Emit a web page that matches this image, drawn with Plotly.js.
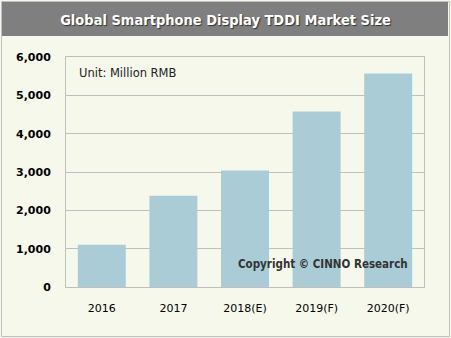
<!DOCTYPE html>
<html><head><meta charset="utf-8">
<script src="https://cdn.plot.ly/plotly-3.0.1.min.js"></script>
<style>html,body{margin:0;padding:0;background:#fff;}</style>
</head><body>
<div id="chart" style="width:451px;height:338px;"></div>
<script>
const categories = ['2016', '2017', '2018(E)', '2019(F)', '2020(F)'];
const marketSize = [1100, 2380, 3040, 4580, 5570];
const yTicks = [0, 1000, 2000, 3000, 4000, 5000, 6000];
const yTickLabels = ['0', '1,000', '2,000', '3,000', '4,000', '5,000', '6,000'];

const W = 451, H = 338, L = 66, R = 27, T = 57, B = 51;
const pw = W - L - R, ph = H - T - B;
const px = x => (x - L) / pw;
const py = y => (H - B - y) / ph;

const trace = {
  type: 'bar', x: categories, y: marketSize,
  marker: {color: '#A9CCD7'}, hoverinfo: 'x+y'
};
const layout = {
  width: W, height: H,
  margin: {l: L, r: R, t: T, b: B},
  paper_bgcolor: '#F7F8EC', plot_bgcolor: '#F7F8EC',
  bargap: 0.33,
  showlegend: false,
  title: {
    text: 'Global Smartphone Display TDDI Market Size',
    x: 0.5, xref: 'container', xanchor: 'center',
    y: 1 - 20 / H, yref: 'container', yanchor: 'middle',
    font: {family: 'DejaVu Sans Condensed, DejaVu Sans', size: 14.5, color: '#FFFFFF', weight: 'bold', shadow: '1px 1px 1px #333333'}
  },
  xaxis: {
    type: 'category', showgrid: false, zeroline: false,
    showline: true, linecolor: '#BFBFBF', linewidth: 1, mirror: true,
    ticks: '', ticklabelstandoff: 11,
    tickfont: {family: 'DejaVu Sans', size: 11, color: '#000'}
  },
  yaxis: {
    range: [0, 6000], tickvals: yTicks, ticktext: yTickLabels,
    showgrid: true, gridcolor: '#BFBFBF', gridwidth: 1, zeroline: false,
    showline: true, linecolor: '#BFBFBF', linewidth: 1, mirror: true,
    ticks: '', ticklabelstandoff: 12,
    tickfont: {family: 'DejaVu Sans', size: 11, color: '#000', weight: 'bold'}
  },
  shapes: [
    {type: 'rect', xref: 'paper', yref: 'paper', layer: 'below',
     x0: px(1.5), x1: px(449.5), y0: py(336.5), y1: py(1.5),
     line: {color: '#BFBFBF', width: 1}, fillcolor: 'rgba(0,0,0,0)'},
    {type: 'rect', xref: 'paper', yref: 'paper', layer: 'below',
     x0: px(2), x1: px(448), y0: py(36), y1: py(2),
     line: {width: 0}, fillcolor: '#7F7F7F'}
  ],
  annotations: [
    {text: 'Unit: Million RMB', xref: 'paper', yref: 'paper', x: px(77), y: py(73),
     xanchor: 'left', yanchor: 'middle', showarrow: false,
     font: {family: 'DejaVu Sans', size: 11.5, color: '#222'}},
    {text: 'Copyright © CINNO Research', xref: 'paper', yref: 'paper', x: px(323), y: py(264),
     xanchor: 'center', yanchor: 'middle', showarrow: false,
     font: {family: 'DejaVu Sans Condensed, DejaVu Sans', size: 11.5, color: '#333', weight: 'bold'}}
  ]
};
Plotly.newPlot('chart', [trace], layout, {displayModeBar: false, staticPlot: true});
</script>
</body></html>
